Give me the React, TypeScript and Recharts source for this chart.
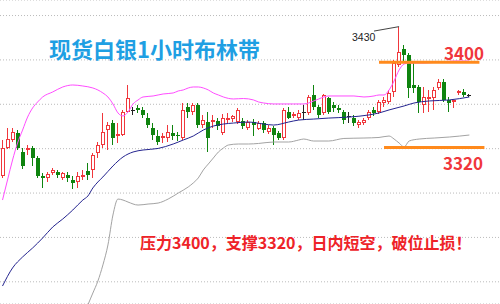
import React from "react";
import {
  ComposedChart,
  Bar,
  Line,
  XAxis,
  YAxis,
  CartesianGrid,
  ReferenceLine,
} from "recharts";

// hourly candles
const opens = [
  3295, 3321, 3328, 3334, 3317, 3319, 3321, 3312, 3295, 3294,
  3298, 3299, 3294, 3296, 3292, 3290, 3295, 3300, 3301, 3316,
  3323, 3337, 3343, 3331, 3332, 3353, 3355, 3357, 3355, 3348,
  3339, 3331, 3330, 3330, 3334, 3332, 3330, 3358, 3353, 3359,
  3341, 3344, 3344, 3345, 3334, 3346, 3347, 3344, 3345, 3339,
  3344, 3338, 3343, 3335, 3339, 3334, 3330, 3353, 3349, 3348,
  3353, 3352, 3368, 3358, 3352, 3366, 3359, 3357, 3353, 3349,
  3348, 3341, 3343, 3348, 3355, 3353, 3361, 3362, 3371, 3395,
  3410, 3404, 3377, 3376, 3359, 3366, 3366, 3375, 3380, 3364,
  3362, 3370, 3371, 3368,
];
const closes = [
  3321, 3329, 3335, 3321, 3304, 3321, 3312, 3295, 3294, 3297,
  3301, 3296, 3298, 3294, 3289, 3295, 3296, 3296, 3314, 3323,
  3335, 3341, 3330, 3333, 3353, 3366, 3355, 3355, 3350, 3341,
  3332, 3326, 3331, 3335, 3331, 3331, 3355, 3353, 3359, 3341,
  3346, 3330, 3346, 3340, 3348, 3348, 3349, 3355, 3340, 3344,
  3341, 3343, 3337, 3339, 3332, 3330, 3355, 3348, 3351, 3352,
  3353, 3367, 3358, 3350, 3368, 3353, 3357, 3355, 3346, 3349,
  3343, 3344, 3346, 3353, 3352, 3362, 3364, 3370, 3397, 3407,
  3404, 3375, 3375, 3362, 3367, 3367, 3373, 3380, 3364, 3361,
  3364, 3372, 3368, 3368,
];
const highs = [
  3328, 3339, 3339, 3337, 3321, 3323, 3322, 3313, 3298, 3299,
  3303, 3301, 3299, 3299, 3295, 3299, 3301, 3307, 3316, 3326,
  3352, 3344, 3346, 3343, 3355, 3377, 3358, 3359, 3358, 3352,
  3343, 3337, 3334, 3341, 3341, 3335, 3361, 3361, 3361, 3361,
  3350, 3353, 3350, 3348, 3351, 3352, 3350, 3357, 3348, 3346,
  3347, 3345, 3345, 3341, 3340, 3336, 3357, 3358, 3353, 3355,
  3359, 3368, 3377, 3359, 3369, 3367, 3362, 3359, 3355, 3353,
  3350, 3346, 3348, 3355, 3358, 3364, 3367, 3373, 3400, 3430,
  3413, 3406, 3398, 3377, 3376, 3373, 3376, 3383, 3383, 3367,
  3364, 3373, 3374, 3369,
];
const lows = [
  3294, 3320, 3326, 3319, 3302, 3314, 3304, 3294, 3285, 3290,
  3296, 3294, 3292, 3290, 3284, 3285, 3292, 3292, 3294, 3312,
  3321, 3319, 3323, 3325, 3331, 3352, 3350, 3352, 3348, 3339,
  3328, 3323, 3325, 3326, 3328, 3327, 3328, 3348, 3350, 3339,
  3339, 3317, 3339, 3337, 3332, 3343, 3344, 3342, 3338, 3337,
  3331, 3337, 3334, 3333, 3323, 3328, 3328, 3347, 3348, 3346,
  3346, 3350, 3355, 3348, 3350, 3351, 3353, 3352, 3342, 3343,
  3340, 3339, 3341, 3346, 3349, 3351, 3358, 3360, 3367, 3394,
  3398, 3366, 3370, 3352, 3352, 3353, 3355, 3373, 3362, 3353,
  3357, 3368, 3367, 3367,
];

// bollinger bands: [bar index, value]
const upperBand = [
  [0, 3273.7], [1, 3291.8], [2, 3309.8], [3, 3325.1], [4, 3336.8], [5, 3348.5],
  [6, 3356.7], [7, 3362.1], [8, 3366.6], [10, 3371.1], [12, 3375.6], [14, 3377.4],
  [16, 3376.5], [18, 3374.7], [19, 3372.9], [20, 3370.2], [21, 3366.6], [22, 3360.3],
  [23, 3352.2], [24, 3349.5], [25, 3353.1], [26, 3360.3], [27, 3363.9], [28, 3366.6],
  [30, 3367.5], [32, 3369.3], [34, 3370.2], [35, 3372.0], [36, 3372.9], [37, 3374.7],
  [38, 3375.6], [39, 3375.6], [40, 3374.7], [41, 3372.9], [42, 3370.2], [43, 3368.4],
  [44, 3366.6], [46, 3364.8], [48, 3365.2], [50, 3363.9], [51, 3362.1], [52, 3361.2],
  [54, 3360.3], [58, 3360.3], [60, 3360.3], [61, 3361.2], [62, 3363.0], [63, 3364.8],
  [64, 3366.6], [65, 3367.5], [70, 3367.5], [72, 3366.6], [74, 3367.5], [75, 3368.4],
  [76, 3368.4], [77, 3372.9], [78, 3381.0], [79, 3390.9], [80, 3396.3], [81, 3397.2],
  [84, 3397.2], [87, 3398.1], [90, 3399.0], [93, 3399.0],
];
const midBand = [
  [0, 3196.2], [2, 3212.5], [4, 3222.4], [6, 3230.5], [8, 3239.5], [10, 3249.4],
  [12, 3256.6], [14, 3264.7], [16, 3273.7], [17, 3277.3], [18, 3284.6], [19, 3290.0],
  [20, 3294.5], [22, 3304.4], [24, 3312.5], [26, 3317.0], [28, 3318.8], [31, 3320.2],
  [34, 3324.2], [36, 3327.8], [38, 3331.4], [40, 3336.8], [42, 3340.4], [44, 3342.2],
  [46, 3343.1], [49, 3344.0], [52, 3342.2], [54, 3341.3], [57, 3344.0], [59, 3345.8],
  [62, 3346.7], [65, 3347.6], [69, 3348.5], [73, 3350.4], [75, 3352.2], [77, 3354.9],
  [80, 3358.5], [82, 3361.2], [85, 3363.0], [89, 3363.9], [93, 3366.6],
];
const lowerBand = [
  [16, 3167.4], [17, 3179.1], [18, 3189.9], [19, 3200.7], [20, 3215.2], [21, 3233.2],
  [22, 3260.2], [23, 3274.6], [24, 3273.7], [25, 3271.9], [27, 3269.2], [29, 3270.1],
  [31, 3271.0], [33, 3274.6], [35, 3280.0], [37, 3285.5], [38, 3289.1], [39, 3293.6],
  [40, 3300.8], [41, 3306.2], [42, 3311.6], [43, 3317.0], [44, 3320.6], [45, 3323.3],
  [47, 3324.2], [49, 3324.2], [51, 3324.7], [54, 3326.0], [57, 3326.0], [59, 3327.8],
  [60, 3328.7], [62, 3326.9], [65, 3326.9], [68, 3329.2], [72, 3329.6], [75, 3330.1],
  [77, 3331.4], [78, 3328.7], [79, 3325.1], [80, 3321.5], [81, 3326.9], [83, 3328.7],
  [86, 3329.6], [89, 3330.5], [93, 3332.3],
];

const gridTicks = [3200, 3220, 3240, 3260, 3280, 3300, 3320, 3340, 3360, 3380, 3400, 3420, 3440];
const resistance = 3398;
const support = 3321;
const peak = 3430;

const RED = "#f0373c";
const GREEN = "#0f840f";
const BLACK = "#222";
const ORANGE = "#ff8a1c";

const rows: any[] = Array.from({ length: opens.length + 6 }, (_, i) => ({
  i,
  range: i < opens.length ? [lows[i], highs[i]] : null,
  open: opens[i],
  close: closes[i],
  upper: null,
  mid: null,
  lower: null,
}));
upperBand.forEach(([i, v]) => (rows[i].upper = v));
midBand.forEach(([i, v]) => (rows[i].mid = v));
lowerBand.forEach(([i, v]) => (rows[i].lower = v));

function Candle(props: any) {
  const { x, y, width, height, payload } = props;
  if (!payload || payload.open == null || !payload.range) return null;
  const [lo, hi] = payload.range;
  const top = Math.min(y, y + height);
  const bot = Math.max(y, y + height);
  const toY = (v: number) => (hi === lo ? top : top + ((hi - v) / (hi - lo)) * (bot - top));
  const { open, close } = payload;
  const cx = Math.round(x + width / 2);
  const wx = cx - 0.5;
  const hy = Math.round(top);
  const ly = Math.round(bot);
  const bTop = Math.round(Math.min(toY(open), toY(close)));
  const bBot = Math.round(Math.max(toY(open), toY(close)));

  if (close > open) {
    const h = bBot - bTop;
    if (h < 3) {
      return (
        <g>
          <line x1={wx} x2={wx} y1={hy} y2={ly} stroke={RED} />
          <rect x={cx - 2} y={bTop} width={4} height={Math.max(h, 2)} fill={RED} />
        </g>
      );
    }
    return (
      <g>
        <line x1={wx} x2={wx} y1={hy} y2={bTop} stroke={RED} />
        <line x1={wx} x2={wx} y1={bBot} y2={ly} stroke={RED} />
        <rect x={cx - 1.5} y={bTop + 0.5} width={3} height={h - 1} fill="#fff" stroke={RED} />
      </g>
    );
  }
  if (close < open) {
    return (
      <g>
        <line x1={wx} x2={wx} y1={hy} y2={ly} stroke={GREEN} />
        <rect x={cx - 2} y={bTop} width={4} height={Math.max(bBot - bTop, 1)} fill={GREEN} />
      </g>
    );
  }
  return (
    <g>
      <line x1={wx} x2={wx} y1={hy} y2={ly} stroke={BLACK} />
      <line x1={cx - 2} x2={cx + 2} y1={bTop + 0.5} y2={bTop + 0.5} stroke={BLACK} />
    </g>
  );
}

const cjk = '"Noto Sans CJK SC", "Noto Sans", sans-serif';

export default function App() {
  return (
    <div
      style={{
        position: "absolute",
        left: 0,
        top: 0,
        width: 500,
        height: 304,
        overflow: "hidden",
        background: "#fff",
      }}
    >
      <ComposedChart
        width={502}
        height={304}
        data={rows}
        margin={{ top: 0, right: 0, bottom: 0, left: 0 }}
      >
        <CartesianGrid vertical={false} stroke="#bbb" strokeDasharray="1 2" />
        <XAxis dataKey="i" type="category" hide />
        <YAxis hide domain={[3180, 3454]} ticks={gridTicks} allowDataOverflow />
        <Line
          dataKey="upper"
          type="monotone"
          stroke="#ff4cff"
          strokeWidth={1}
          dot={false}
          activeDot={false}
          connectNulls
          isAnimationActive={false}
        />
        <Line
          dataKey="mid"
          type="monotone"
          stroke="#24248f"
          strokeWidth={1}
          dot={false}
          activeDot={false}
          connectNulls
          isAnimationActive={false}
        />
        <Line
          dataKey="lower"
          type="monotone"
          stroke="#a3a3a3"
          strokeWidth={1}
          dot={false}
          activeDot={false}
          connectNulls
          isAnimationActive={false}
        />
        <Bar
          dataKey="range"
          shape={(p: any) => <Candle {...p} />}
          activeBar={false}
          isAnimationActive={false}
        />
        <ReferenceLine
          segment={[{ x: 75, y: resistance }, { x: 95, y: resistance }]}
          stroke={ORANGE}
          strokeWidth={3}
          ifOverflow="visible"
        />
        <ReferenceLine
          segment={[{ x: 76, y: support }, { x: 96, y: support }]}
          stroke={ORANGE}
          strokeWidth={3}
          ifOverflow="visible"
        />
        <ReferenceLine
          segment={[{ x: 74, y: 3426 }, { x: 79, y: peak }]}
          stroke="#444"
          ifOverflow="visible"
        />
      </ComposedChart>

      <div
        style={{
          position: "absolute",
          left: 49,
          top: 37,
          fontFamily: cjk,
          fontWeight: 700,
          fontSize: 22,
          lineHeight: "22px",
          color: "#1f9fe3",
          whiteSpace: "nowrap",
        }}
      >
        现货白银1小时布林带
      </div>
      <div
        style={{
          position: "absolute",
          left: 352,
          top: 32,
          fontFamily: '"Liberation Sans", Arial, sans-serif',
          fontSize: 10.5,
          lineHeight: "11px",
          color: "#222",
        }}
      >
        {peak}
      </div>
      <div
        style={{
          position: "absolute",
          left: 444,
          top: 44,
          fontFamily: cjk,
          fontWeight: 700,
          fontSize: 17,
          lineHeight: "17px",
          color: RED,
        }}
      >
        3400
      </div>
      <div
        style={{
          position: "absolute",
          left: 443,
          top: 154,
          fontFamily: cjk,
          fontWeight: 700,
          fontSize: 17,
          lineHeight: "17px",
          color: RED,
        }}
      >
        3320
      </div>
      <div
        style={{
          position: "absolute",
          left: 140,
          top: 234,
          fontFamily: cjk,
          fontWeight: 700,
          fontSize: 16,
          lineHeight: "16px",
          color: "#ee2328",
          whiteSpace: "nowrap",
        }}
      >
        压力3400，支撑3320，日内短空，破位止损！
      </div>
    </div>
  );
}
